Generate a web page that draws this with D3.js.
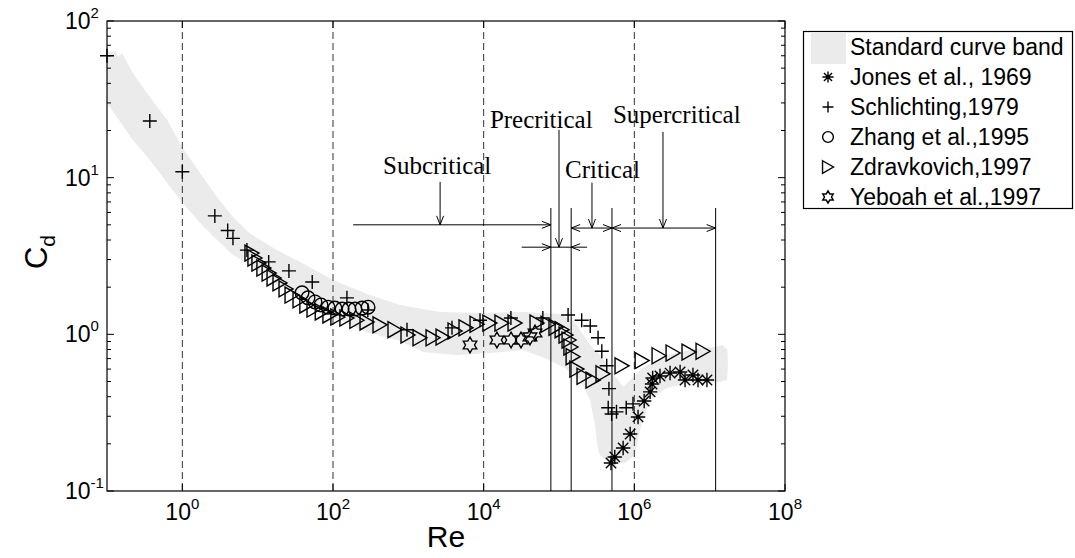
<!DOCTYPE html>
<html><head><meta charset="utf-8">
<script src="https://cdn.jsdelivr.net/npm/d3@7"></script>
<style>body{margin:0;background:#fff}svg{display:block}</style>
</head><body>
<svg id="chart" width="1075" height="558"></svg>
<script>
// ---------- data ----------
const bandUpper = [[0.1,63],[0.13,64],[0.14,59],[0.158,62.5],[0.22,46.5],[0.37,32.7],[0.63,23.3],[0.99,15.7],[1.72,10.7],[2.9,7.5],[4.7,5.6],[7.9,4.4],[18,3.45],[36.5,2.9],[100,2.22],[283,1.81],[776,1.54],[2640,1.39],[8950,1.37],[33300,1.39],[1.03e5,1.35],[1.54e5,1.22],[1.9e5,1.07],[2.58e5,0.855],[3.5e5,0.738],[5.2e5,0.566],[7.1e5,0.461],[1.19e6,0.592],[1.77e6,0.665],[2.7e6,0.738],[7.45e6,0.818],[1.18e7,0.83],[1.46e7,0.855],[1.72e7,0.8],[1.75e7,0.65]];
const bandLower = [[0.1,30],[0.22,17.4],[0.37,13.0],[0.63,9.25],[0.99,7.0],[1.72,5.14],[2.9,4.0],[4.7,3.21],[8.7,2.69],[18,2.09],[36.5,1.73],[100,1.29],[283,1.03],[776,0.907],[1567,0.771],[4430,0.738],[12100,0.76],[33300,0.794],[65000,0.706],[1.2e5,0.61],[1.9e5,0.512],[2.58e5,0.381],[3.0e5,0.264],[3.3e5,0.183],[3.5e5,0.17],[4.75e5,0.149],[7.5e5,0.151],[1.02e6,0.17],[1.19e6,0.245],[1.6e6,0.381],[2.7e6,0.454],[5.5e6,0.489],[1.37e7,0.497],[1.7e7,0.512]];

const jones = [[4.9e5,0.151],[5.5e5,0.165],[7.1e5,0.188],[8.8e5,0.231],[1.12e6,0.297],[1.35e6,0.375],[1.62e6,0.429],[1.72e6,0.482],[1.75e6,0.526],[2.19e6,0.542],[2.98e6,0.566],[4.05e6,0.575],[4.71e6,0.511],[6.0e6,0.55],[7.0e6,0.511],[9.2e6,0.511]];
const schlichting = [[0.1,60],[0.37,23],[1.0,10.9],[2.7,5.7],[4.0,4.6],[4.7,4.1],[7.2,3.45],[14,2.9],[26,2.54],[53,2.16],[153,1.71],[290,1.43],[960,1.07],[3800,1.10],[8950,1.23],[23000,1.27],[61000,1.27],[1.32e5,1.33],[2.0e5,1.23],[2.6e5,1.13],[3.3e5,0.95],[3.7e5,0.78],[4.3e5,0.63],[4.6e5,0.45],[4.5e5,0.34],[5.0e5,0.31],[5.8e5,0.32],[7.8e5,0.34],[9.6e5,0.36]];
const zhang = [[38.8,1.84],[46.6,1.71],[57.7,1.61],[69.3,1.54],[85.9,1.49],[106,1.47],[132,1.45],[163,1.45],[196,1.45],[243,1.47],[292,1.49]];
const zdravkovich = [[8.4,3.3],[9.2,3.07],[10.4,2.85],[12.1,2.65],[14.2,2.46],[16.5,2.29],[19.8,2.13],[23.8,1.95],[28.6,1.78],[36.5,1.66],[45,1.54],[56,1.45],[72,1.39],[91,1.33],[116,1.29],[153,1.27],[208,1.23],[283,1.2],[421,1.15],[665,1.07],[990,0.99],[1430,0.95],[2130,0.95],[2890,0.96],[4170,1.05],[5830,1.10],[8170,1.16],[12100,1.18],[17500,1.18],[26100,1.18],[51100,1.18],[71500,1.16],[91200,1.11],[1.10e5,1.07],[1.24e5,0.99],[1.36e5,0.92],[1.44e5,0.83],[1.54e5,0.72],[1.73e5,0.60],[2.15e5,0.54],[2.83e5,0.51],[3.84e5,0.56],[6.87e5,0.63],[1.27e6,0.68],[2.13e6,0.73],[3.27e6,0.76],[5.32e6,0.77],[8.17e6,0.78]];
const yeboah = [[6590,0.855],[15000,0.92],[23100,0.92],[31300,0.92],[41200,0.962],[48000,1.02]];

const xTicks = [1e0,1e2,1e4,1e6,1e8];
const xTickExp = ["0","2","4","6","8"];
const yTicks = [0.1,1,10,100];
const yTickExp = ["-1","0","1","2"];

const regimeBounds = [7.8e4,1.45e5,5.05e5,1.2e7];
const regimeLabels = ["Subcritical","Precritical","Critical","Supercritical"];
const regimeLabelPos = [[461,10.55],[12100,20.7],[1.2e5,9.95],[5.2e5,22.3]];
const regimeArrowX = [2640,1.0e5,2.74e5,2.4e6];
const regimeArrowTop = [9.4,20.2,9.3,19.6];
const regimeArrowBottom = [5.0,3.6,4.77,4.77];

const legendLabels = ["Standard curve band","Jones et al., 1969","Schlichting,1979","Zhang et al.,1995","Zdravkovich,1997","Yeboah et al.,1997"];
const legendTypes = ["band","star","plus","circle","tri","hex"];

// ---------- scales ----------
const L=107,R=785,T=21,B=491;
const x = d3.scaleLog().domain([0.1,1e8]).range([L,R]);
const y = d3.scaleLog().domain([0.1,100]).range([B,T]);

const svg = d3.select("#chart");
const SANS = "'Liberation Sans', Arial, Helvetica, sans-serif";
const SERIF = "'Liberation Serif', 'Times New Roman', serif";

// band
const bandPts = bandUpper.concat(bandLower.slice().reverse());
svg.append("path")
  .attr("d", d3.line().x(d=>x(d[0])).y(d=>y(d[1]))(bandPts)+"Z")
  .attr("fill","#ebebeb").attr("stroke","none");

// grid (dashed vertical lines)
svg.append("g").selectAll("line").data(xTicks.slice(0,4)).join("line")
  .attr("x1",d=>x(d)).attr("x2",d=>x(d)).attr("y1",T).attr("y2",B)
  .attr("stroke","#333").attr("stroke-width",1).attr("stroke-dasharray","7,4");

// markers
function markerPath(type, cx, cy, k){
  k = k||1;
  if(type==="plus"){const s=7*k;return `M${cx-s},${cy}H${cx+s}M${cx},${cy-s}V${cy+s}`;}
  if(type==="star"){const s=7.2*k,d=s*0.72;return `M${cx-s},${cy}H${cx+s}M${cx},${cy-s}V${cy+s}M${cx-d},${cy-d}L${cx+d},${cy+d}M${cx-d},${cy+d}L${cx+d},${cy-d}`;}
  if(type==="tri"){const w=7*k,h=8*k;return `M${cx-w},${cy-h}L${cx+w},${cy}L${cx-w},${cy+h}Z`;}
  if(type==="hex"){const Ro=7.8*k,Ri=Ro/Math.sqrt(3);let p=[];for(let i=0;i<12;i++){const a=-Math.PI/2+i*Math.PI/6;const r=i%2?Ri:Ro;p.push([cx+r*Math.cos(a),cy+r*Math.sin(a)]);}return "M"+p.map(q=>q.join(",")).join("L")+"Z";}
  return "";
}
const gm = svg.append("g").attr("fill","none").attr("stroke","#000").attr("stroke-width",1.4);
function series(data,type){
  if(type==="circle"){
    gm.append("g").selectAll("circle").data(data).join("circle")
      .attr("cx",d=>x(d[0])).attr("cy",d=>y(d[1])).attr("r",6.8);
  } else {
    gm.append("g").selectAll("path").data(data).join("path")
      .attr("d",d=>markerPath(type,x(d[0]),y(d[1])));
  }
}
series(zdravkovich,"tri");
series(zhang,"circle");
series(yeboah,"hex");
series(schlichting,"plus");
series(jones,"star");

// axes box
svg.append("rect").attr("x",L).attr("y",T).attr("width",R-L).attr("height",B-T)
  .attr("fill","none").attr("stroke","#000").attr("stroke-width",1.2);

// y ticks (major + minor), both sides
const yMinor=[];
for(let e=-1;e<2;e++) for(let m=2;m<=9;m++) yMinor.push(m*Math.pow(10,e));
const gt = svg.append("g").attr("stroke","#000").attr("stroke-width",1);
gt.selectAll(".ymin").data(yMinor).join("path")
  .attr("d",d=>`M${L},${y(d)}h4M${R},${y(d)}h-4`);
gt.selectAll(".ymaj").data(yTicks).join("path")
  .attr("d",d=>`M${L},${y(d)}h7M${R},${y(d)}h-7`);
gt.selectAll(".xmaj").data(xTicks).join("path")
  .attr("d",d=>`M${x(d)},${B}v-7M${x(d)},${T}v7`);

// tick labels
const gl = svg.append("g").attr("font-family",SANS).attr("fill","#000");
xTicks.forEach((t,i)=>{
  const tx = gl.append("text").attr("x",x(t)).attr("y",520).attr("text-anchor","middle").attr("font-size",23);
  tx.append("tspan").text("10");
  tx.append("tspan").attr("dy",-11).attr("font-size",15).text(xTickExp[i]);
});
yTicks.forEach((t,i)=>{
  const tx = gl.append("text").attr("x",65).attr("y",y(t)+8).attr("text-anchor","start").attr("font-size",23);
  tx.append("tspan").text("10");
  tx.append("tspan").attr("dy",-11).attr("font-size",15).text(yTickExp[i]);
});

// axis titles
gl.append("text").attr("x",(L+R)/2).attr("y",547).attr("text-anchor","middle").attr("font-size",30).text("Re");
const yl = gl.append("text").attr("transform","translate(47,252) rotate(-90)").attr("text-anchor","middle").attr("font-size",31);
yl.append("tspan").text("C");
yl.append("tspan").attr("dy",8).attr("font-size",21).text("d");

// regime annotations
const ga = svg.append("g").attr("stroke","#000").attr("stroke-width",1).attr("fill","none");
regimeBounds.forEach(b=>{
  ga.append("line").attr("x1",x(b)).attr("x2",x(b)).attr("y1",y(6.4)).attr("y2",B);
});
function head(tx,ty,dx,dy){
  const len=9, hw=3.5;
  const bx=tx-dx*len, by=ty-dy*len, px=-dy, py=dx;
  return `M${bx+px*hw},${by+py*hw}L${tx},${ty}L${bx-px*hw},${by-py*hw}`;
}
function arrowV(xv,yTop,yBot){
  const X=x(xv),Y1=y(yTop),Y2=y(yBot);
  ga.append("path").attr("d",`M${X},${Y1}V${Y2}`+head(X,Y2,0,1));
}
function hline(x1,x2,yy){ga.append("path").attr("d",`M${x(x1)},${y(yy)}H${x(x2)}`);}
function hHead(xv,yy,dir){ga.append("path").attr("d",head(x(xv),y(yy),dir,0));}
hline(185,regimeBounds[0],regimeArrowBottom[0]); hHead(regimeBounds[0],regimeArrowBottom[0],1);
hline(3.2e4,2.36e5,regimeArrowBottom[1]);
hHead(regimeBounds[0],regimeArrowBottom[1],1); hHead(regimeBounds[1],regimeArrowBottom[1],-1);
hline(regimeBounds[1],regimeBounds[2],regimeArrowBottom[2]);
hHead(regimeBounds[1],regimeArrowBottom[2],-1); hHead(regimeBounds[2],regimeArrowBottom[2],1);
hline(regimeBounds[2],regimeBounds[3],regimeArrowBottom[3]);
hHead(regimeBounds[2],regimeArrowBottom[3],-1); hHead(regimeBounds[3],regimeArrowBottom[3],1);
regimeArrowX.forEach((xv,i)=>arrowV(xv,regimeArrowTop[i],regimeArrowBottom[i]));
regimeLabels.forEach((s,i)=>{
  svg.append("text").attr("x",x(regimeLabelPos[i][0])).attr("y",y(regimeLabelPos[i][1]))
    .attr("font-family",SERIF).attr("font-size",25).attr("fill","#000").text(s);
});

// legend
const lg = svg.append("g");
lg.append("rect").attr("x",803.5).attr("y",31.5).attr("width",269).attr("height",177)
  .attr("fill","#fff").attr("stroke","#000").attr("stroke-width",1.2);
legendLabels.forEach((s,i)=>{
  const by = 55+30*i;
  const cy = by-8;
  const t = legendTypes[i];
  if(t==="band"){
    lg.append("rect").attr("x",811).attr("y",32).attr("width",35).attr("height",32).attr("fill","#ebebeb");
  } else if(t==="circle"){
    lg.append("circle").attr("cx",828).attr("cy",cy).attr("r",5.4).attr("fill","none").attr("stroke","#000").attr("stroke-width",1.4);
  } else {
    lg.append("path").attr("d",markerPath(t,828,cy,0.78)).attr("fill","none").attr("stroke","#000").attr("stroke-width",1.4);
  }
  lg.append("text").attr("x",850).attr("y",by).attr("font-family",SANS).attr("font-size",23).attr("fill","#000").text(s);
});
</script>
</body></html>
